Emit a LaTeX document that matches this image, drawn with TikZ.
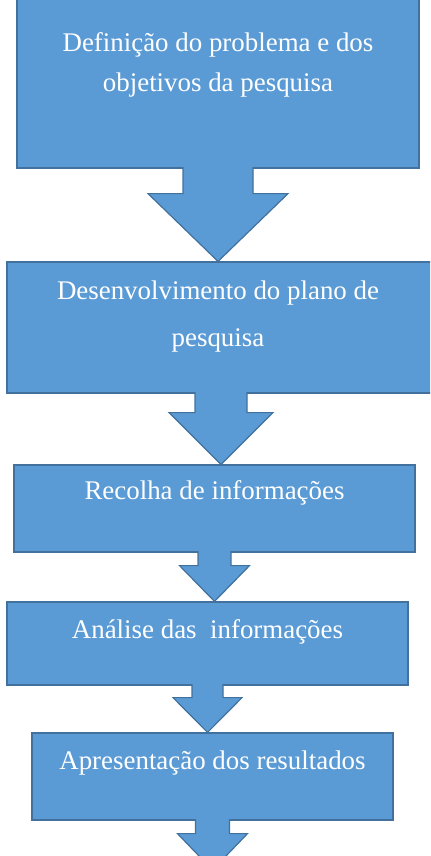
\documentclass[tikz,border=0pt]{standalone}
\usepackage{fontspec}
\setmainfont{Liberation Serif}
\usetikzlibrary{calc}
\definecolor{azul}{HTML}{5B9BD5}
\definecolor{azulescuro}{HTML}{41719C}
\tikzset{etapa/.style 2 args = {draw = azulescuro, fill = azul, line width = 1.2bp, inner sep = 0, minimum width = #1, minimum height = #2}}
\tikzset{texto/.style = {text = white, align = center, inner sep = 0, font = \fontsize{27}{40}\selectfont}}
\tikzset{seta/.style = {draw = azulescuro, fill = azul, line width = 1.2bp, line join = miter}}
% block arrow: start point, tip point, shaft half width, head half width, shaft length
\newcommand{\setabloco}[5]{%
  \draw [seta] ($(#1)+(-#3,1.5bp)$) -- ($(#1)+(-#3,-#5)$) -- ($(#1)+(-#4,-#5)$)
    -- (#1 |- #2) -- ($(#1)+(#4,-#5)$) -- ($(#1)+(#3,-#5)$) -- ($(#1)+(#3,1.5bp)$);}

\begin{document}
\begin{tikzpicture}[x = 1bp, y = -1bp]
          \useasboundingbox (0, 0) rectangle (430, 856);
          \clip (0, 0) rectangle (430, 856);
          \node [etapa = {402bp}{175bp}] (b1) at (218, 80.5) {};
          \node [etapa = {428bp}{131bp}] (b2) at (221, 327.5) {};
          \node [etapa = {401bp}{87bp}] (b3) at (214.5, 508.5) {};
          \node [etapa = {401bp}{83bp}] (b4) at (207.5, 643.5) {};
          \node [etapa = {361bp}{87bp}] (b5) at (212.5, 776.5) {};
          \coordinate (fim) at (213, 870);

          \node [texto] (t1) at (218, 65) {Definição do problema e dos\\objetivos da pesquisa};
          \node [texto, font = \fontsize{27}{47}\selectfont] (t2) at (218, 316.5) {Desenvolvimento do plano de\\pesquisa};
          \node [texto] (t3) at (214.5, 493) {Recolha de informações};
          \node [texto] (t4) at (207.5, 632) {Análise das\ \ informações};
          \node [texto] (t5) at (212.5, 763) {Apresentação dos resultados};

          \setabloco{b1.south}{b2.north}{35bp}{70bp}{25bp}
          \setabloco{b2.south}{b3.north}{26bp}{52bp}{19bp}
          \setabloco{b3.south}{b4.north}{16.5bp}{35bp}{13bp}
          \setabloco{b4.south}{b5.north}{15.5bp}{34.5bp}{12bp}
          \setabloco{b5.south}{fim}{17bp}{35bp}{13bp}
        \end{tikzpicture}
\end{document}
